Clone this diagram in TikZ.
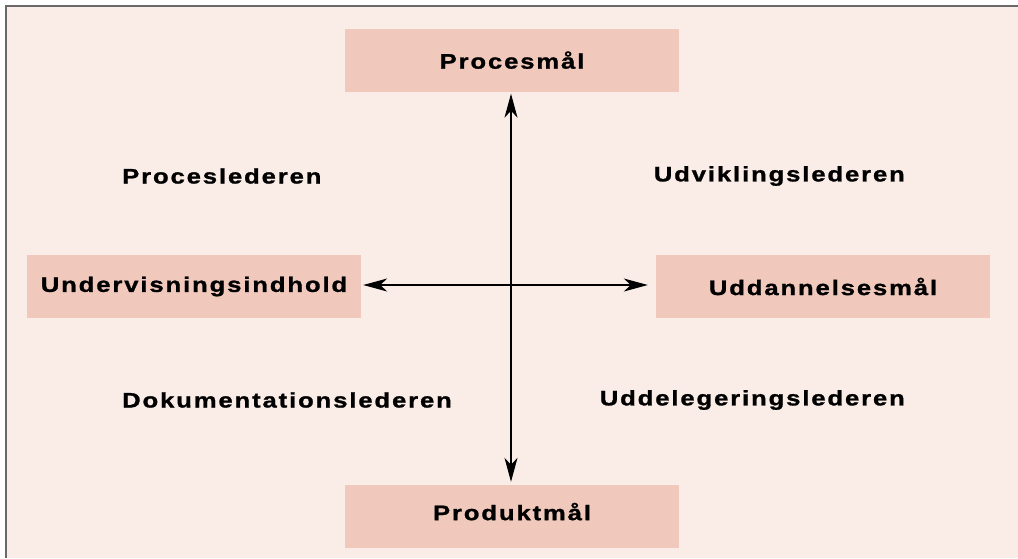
\documentclass[tikz,border=0pt]{standalone}
\usepackage{fontspec}
\usetikzlibrary{arrows.meta}
\newfontfamily\lblfont{Liberation Sans Bold}[FakeStretch=1.22,LetterSpace=9,FakeBold=1.2]
\definecolor{bgpink}{RGB}{250,236,231}
\definecolor{boxpink}{RGB}{240,201,188}
\definecolor{framegray}{RGB}{105,105,105}
\tikzset{
  goal/.style={fill=boxpink, draw=none, minimum width=334pt, minimum height=63pt, inner sep=0pt,
    font=\lblfont\fontsize{21}{25}\selectfont, text=black},
  role/.style={inner sep=0pt, font=\lblfont\fontsize{21}{25}\selectfont, text=black},
  axis/.style={line width=1.3pt, black, {Stealth[length=24pt,width=13pt,inset=7pt]}-{Stealth[length=24pt,width=13pt,inset=7pt]}}
}
\begin{document}
\begin{tikzpicture}[x=1pt,y=-1pt]
\useasboundingbox (0,0) rectangle (1018,558);
\fill[white] (0,0) rectangle (1018,558);
\fill[bgpink] (6,6) rectangle (1018,558);
\draw[framegray, line width=2pt] (5.5,558) -- (5.5,5.5) -- (1018,5.5);

\node[goal, text depth=0pt] (pm) at (512,60) {Procesmål};
\node[goal] (ui) at (194,286.5) {Undervisningsindhold};
\node[goal] (um) at (823,286.5) {Uddannelsesmål};
\node[goal, text depth=10pt] (pd) at (512,516.5) {Produktmål};

\node[role, anchor=west] (pl) at (122,176) {Proceslederen};
\node[role, anchor=east] (ul) at (905,176) {Udviklingslederen};
\node[role, anchor=west] (dl) at (122,400) {Dokumentationslederen};
\node[role, anchor=east] (gl) at (905,400) {Uddelegeringslederen};

\draw[axis, shorten <=2pt, shorten >=3pt] ([xshift=-1pt]pm.south) -- ([xshift=-1pt]pd.north);
\draw[axis, shorten <=2pt, shorten >=8pt] ([yshift=1.5pt]ui.east) -- ([yshift=1.5pt]um.west);
\end{tikzpicture}
\end{document}
